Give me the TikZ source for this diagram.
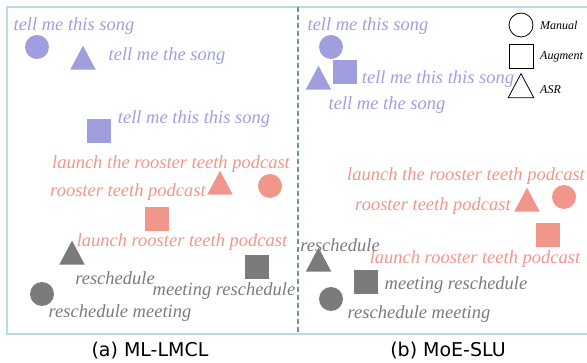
\documentclass[tikz,border=0pt]{standalone}
\usepackage{fontspec}
\setmainfont{Liberation Serif}
\newfontfamily\capfont{DejaVu Sans}
\usetikzlibrary{shapes.geometric}
\definecolor{cblue}{HTML}{A09EDE}
\definecolor{csalmon}{HTML}{F0968A}
\definecolor{cgrey}{HTML}{7B7B7B}
\definecolor{cframe}{HTML}{B2DDE2}
\definecolor{cdash}{HTML}{6E9496}
\tikzset{
  lbl/.style={font=\fontsize{18.5}{19}\selectfont\itshape, inner sep=0pt},
  leg/.style={font=\fontsize{12}{13}\selectfont\itshape, inner sep=0pt, anchor=west},
  circ/.style={circle, minimum size=24pt, inner sep=0pt},
  sq/.style={rectangle, minimum size=24pt, inner sep=0pt},
  tri/.style={isosceles triangle, isosceles triangle apex angle=56, shape border rotate=90, minimum height=24pt, inner sep=0pt},
  captxt/.style={font=\capfont\fontsize{19}{20}\selectfont, inner sep=0pt},
}
\begin{document}
\begin{tikzpicture}[x=1pt,y=-1pt]
\useasboundingbox (0,0) rectangle (587,363);
% frame
\draw[cframe, line width=2pt] (595,7) -- (7,7) -- (7,334) -- (595,334);
\draw[cdash, line width=1.5pt, dash pattern=on 5pt off 3pt] (298,7) -- (298,334);

% ---------- panel a ----------
\node[lbl, text=cblue] (a1t) at (74,26) {tell me this song};
\node[circ, fill=cblue] (a1) at (37,47) {};
\node[tri, fill=cblue] (a2) at (83,62) {};
\node[lbl, text=cblue] (a2t) at (167,56) {tell me the song};
\node[sq, fill=cblue] (a3) at (99,131) {};
\node[lbl, text=cblue] (a3t) at (194,119) {tell me this this song};

\node[lbl, text=csalmon] (b1t) at (171,164) {launch the rooster teeth podcast};
\node[tri, fill=csalmon] (b2) at (220,187) {};
\node[circ, fill=csalmon] (b1) at (270,186) {};
\node[lbl, text=csalmon] (b2t) at (128,192) {rooster teeth podcast};
\node[sq, fill=csalmon] (b3) at (157,219.5) {};
\node[lbl, text=csalmon] (b3t) at (182,242) {launch rooster teeth podcast};

\node[tri, fill=cgrey] (c2) at (72,257) {};
\node[sq, fill=cgrey] (c3) at (257,267) {};
\node[lbl, text=cgrey] (c2t) at (115,278) {reschedule};
\node[lbl, text=cgrey] (c3t) at (224,291) {meeting reschedule};
\node[circ, fill=cgrey] (c1) at (42,294) {};
\node[lbl, text=cgrey] (c1t) at (120,313) {reschedule meeting};

\node[captxt] (capa) at (150,351) {(a) ML-LMCL};

% ---------- panel b ----------
\node[lbl, text=cblue] (d1t) at (368,26) {tell me this song};
\node[circ, fill=cblue] (d1) at (331,47) {};
\node[sq, fill=cblue] (d3) at (344.5,72.5) {};
\node[tri, fill=cblue] (d2) at (318.5,82) {};
\node[lbl, text=cblue] (d3t) at (438,79) {tell me this this song};
\node[lbl, text=cblue] (d2t) at (387,105) {tell me the song};

\node[circ, draw=black, line width=0.8pt] (l1) at (521,25) {};
\node[leg] (l1t) at (540,25) {Manual};
\node[sq, draw=black, line width=0.8pt] (l2) at (521,56) {};
\node[leg] (l2t) at (540,57) {Augment};
\node[tri, draw=black, line width=0.8pt] (l3) at (521,90) {};
\node[leg] (l3t) at (540,90) {ASR};

\node[lbl, text=csalmon] (e1t) at (466,176) {launch the rooster teeth podcast};
\node[circ, fill=csalmon] (e1) at (564,197) {};
\node[tri, fill=csalmon] (e2) at (527,204) {};
\node[lbl, text=csalmon] (e2t) at (433,206) {rooster teeth podcast};
\node[sq, fill=csalmon] (e3) at (548,235) {};
\node[lbl, text=csalmon] (e3t) at (475,259) {launch rooster teeth podcast};

\node[lbl, text=cgrey] (f2t) at (340,245) {reschedule};
\node[tri, fill=cgrey] (f2) at (318.5,264) {};
\node[sq, fill=cgrey] (f3) at (365.5,282.5) {};
\node[lbl, text=cgrey] (f3t) at (456,285) {meeting reschedule};
\node[circ, fill=cgrey] (f1) at (331,299) {};
\node[lbl, text=cgrey] (f1t) at (419,314) {reschedule meeting};

\node[captxt] (capb) at (448,351) {(b) MoE-SLU};
\end{tikzpicture}
\end{document}
